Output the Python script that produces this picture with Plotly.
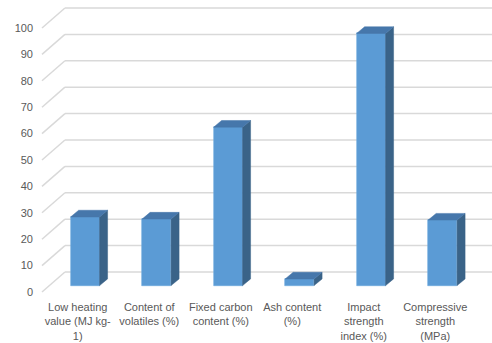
import plotly.graph_objects as go

categories = [
    "Low heating<br>value (MJ kg-<br>1)",
    "Content of<br>volatiles (%)",
    "Fixed carbon<br>content (%)",
    "Ash content<br>(%)",
    "Impact<br>strength<br>index (%)",
    "Compressive<br>strength<br>(MPa)",
]
values = [26.0, 25.2, 60.0, 2.5, 95.5, 24.8]
y_ticks = [0, 10, 20, 30, 40, 50, 60, 70, 80, 90, 100]

# pseudo-3D geometry (axis units)
DEPTH_X, DEPTH_Y = 0.321, 7.58      # full floor depth offset
BAR_D0 = 0.32                        # bar front position in depth
BAR_DX, BAR_DY = 0.112, 2.54         # bar depth offset
BAR_W = 0.405

FRONT = "#5b9bd5"
TOP = "#4677ab"
SIDE = "#3a6388"
GRID = "#d9d9d9"
TXT = "#595959"
FONT = "Liberation Sans"

n = len(categories)
pos = list(range(n))
bx = [p + BAR_D0 * DEPTH_X for p in pos]
base = BAR_D0 * DEPTH_Y

fig = go.Figure()

# front faces
fig.add_trace(go.Bar(
    x=bx, y=values, base=[base] * n, width=BAR_W,
    marker=dict(color=FRONT, line=dict(color="#6aa7de", width=0.6)),
    hoverinfo="skip", showlegend=False,
))

# top and side faces
tx, ty, sx, sy = [], [], [], []
for xc, v in zip(bx, values):
    xl, xr = xc - BAR_W / 2, xc + BAR_W / 2
    top = base + v
    tx += [xl, xr, xr + BAR_DX, xl + BAR_DX, xl, None]
    ty += [top, top, top + BAR_DY, top + BAR_DY, top, None]
    sx += [xr, xr + BAR_DX, xr + BAR_DX, xr, xr, None]
    sy += [base, base + BAR_DY, top + BAR_DY, top, base, None]

fig.add_trace(go.Scatter(x=sx, y=sy, mode="lines", fill="toself", fillcolor=SIDE,
                         line=dict(color=SIDE, width=0.5), hoverinfo="skip", showlegend=False))
fig.add_trace(go.Scatter(x=tx, y=ty, mode="lines", fill="toself", fillcolor=TOP,
                         line=dict(color=TOP, width=0.5), hoverinfo="skip", showlegend=False))

# wall gridlines
shapes = []
x_front = pos[0] - 0.5
x_back = x_front + DEPTH_X
x_end = pos[-1] + 0.5 + DEPTH_X
for v in y_ticks:
    shapes.append(dict(type="line", xref="x", yref="y", x0=x_front, y0=v,
                       x1=x_back, y1=v + DEPTH_Y, line=dict(color=GRID, width=1.5), layer="below"))
    shapes.append(dict(type="line", xref="x", yref="y", x0=x_back, y0=v + DEPTH_Y,
                       x1=x_end, y1=v + DEPTH_Y, line=dict(color=GRID, width=1.5), layer="below"))

UX = 71.5
UY = 2.64
fig.update_layout(
    width=492, height=343,
    margin=dict(l=34, r=0, t=0, b=44),
    paper_bgcolor="white", plot_bgcolor="white",
    shapes=shapes,
    font=dict(family=FONT, size=11, color=TXT),
    xaxis=dict(
        range=[x_front - 8 / UX, x_front + 450 / UX],
        tickvals=pos, ticktext=categories,
        showgrid=False, zeroline=False, showline=False, ticks="",
        tickfont=dict(family=FONT, size=11, color=TXT),
    ),
    yaxis=dict(
        range=[-7 / UY, 292 / UY],
        tickvals=y_ticks,
        showgrid=False, zeroline=False, showline=False, ticks="",
        tickfont=dict(family=FONT, size=11, color=TXT),
    ),
    bargap=0,
)

fig.write_html("out.html")
